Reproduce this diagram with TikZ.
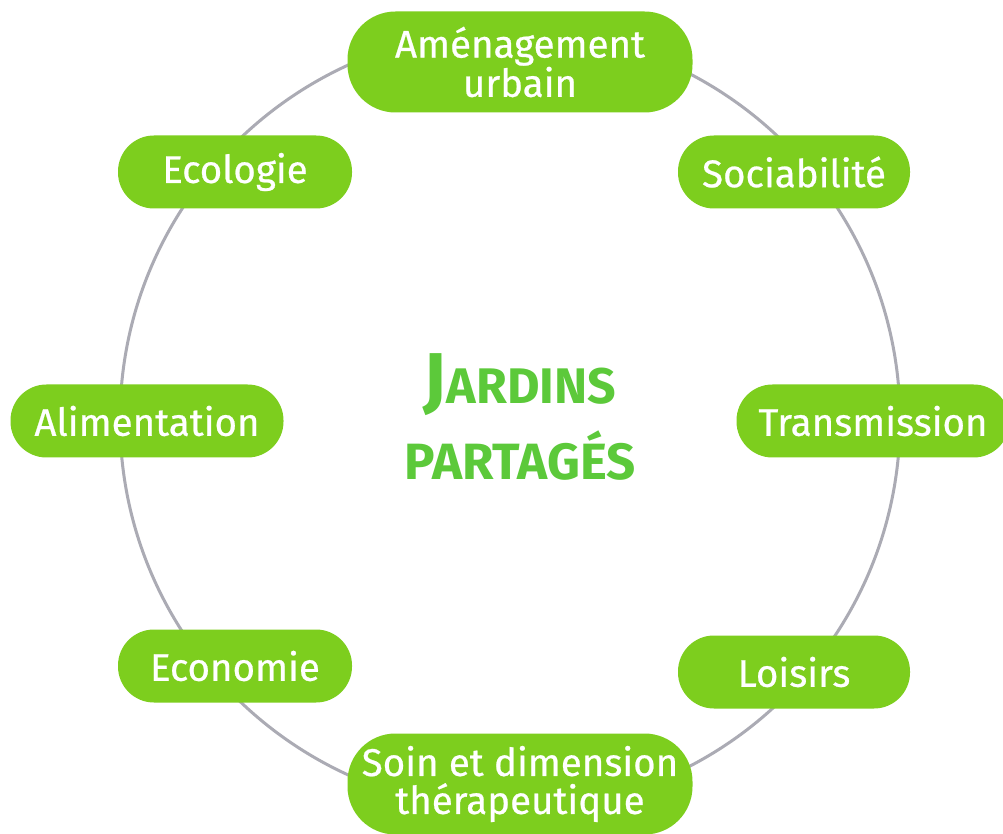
\documentclass[tikz,border=0pt]{standalone}
\usepackage{fontspec}
\setmainfont{Fira Sans}
\newfontfamily\pillfont{Fira Sans}[FakeBold=0.6]
\definecolor{pill}{HTML}{7DCE1E}
\definecolor{ring}{HTML}{ABABB4}
\definecolor{title}{HTML}{5CC93A}
\begin{document}
\begin{tikzpicture}[x=1pt,y=1pt,
  pillbox/.style={fill=pill, draw=none, rounded corners=36pt, text=white,
    inner sep=0pt, font=\pillfont\fontsize{38.5}{38}\selectfont, align=center},
  small/.style={pillbox, minimum height=73pt},
  big/.style={pillbox, minimum height=101pt, rounded corners=48pt}]
\clip (0,0) rectangle (1003,833);
\fill[white] (0,0) rectangle (1003,833);
\node[circle, draw=ring, line width=3pt, minimum size=780pt, inner sep=0pt] (ring) at (510,413) {};
\node[big, minimum width=345pt] (amen) at (520,771) {Aménagement\\urbain};
\node[small, minimum width=232pt] (soc) at (794,661) {Sociabilité};
\node[small, minimum width=234pt] (eco) at (235,661) {Ecologie};
\node[small, minimum width=273pt] (alim) at (147,412) {Alimentation};
\node[small, minimum width=273pt] (trans) at (873,412) {Transmission};
\node[small, minimum width=234pt] (econ) at (235,167) {Economie};
\node[small, minimum width=232pt] (lois) at (794,161) {Loisirs};
\node[big, minimum width=345pt] (soin) at (520,49) {Soin et dimension\\thérapeutique};
\node[text=title, font=\bfseries, align=center] (title) at (520,416)
  {{\fontsize{72}{70}\selectfont J}{\fontsize{50}{50}\selectfont ARDINS}\\[14pt]
   {\fontsize{51}{50}\selectfont PARTAGÉS}};
\end{tikzpicture}
\end{document}
